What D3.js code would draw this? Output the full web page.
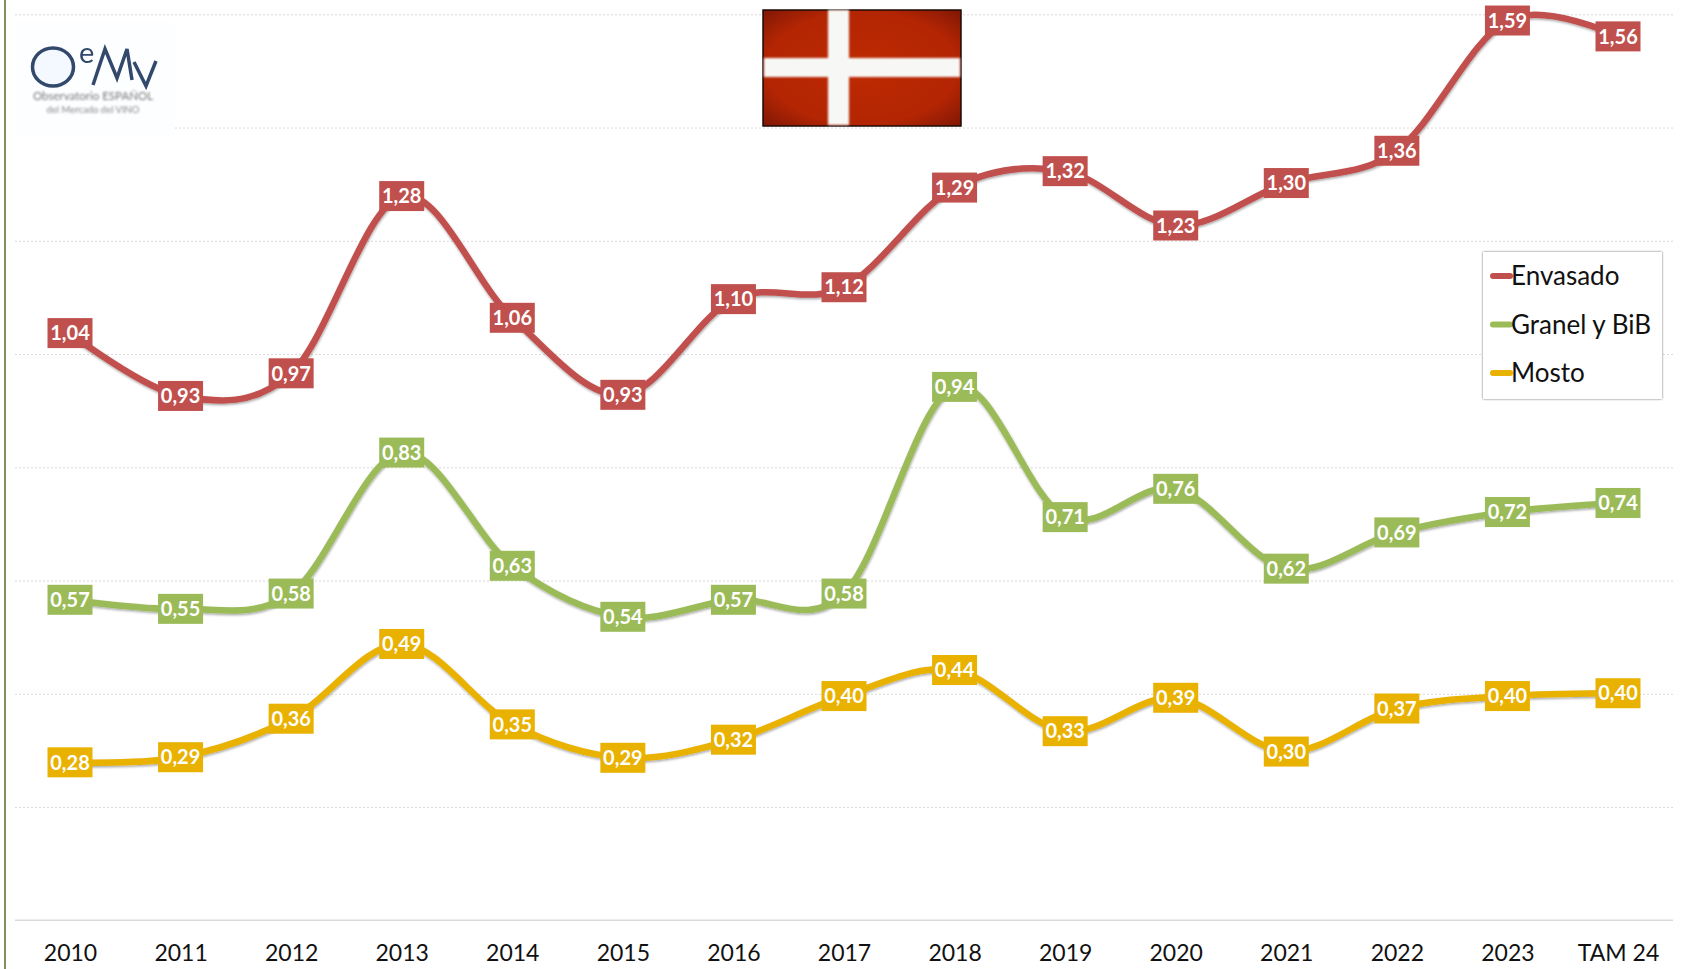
<!DOCTYPE html>
<html>
<head>
<meta charset="utf-8">
<script src="https://d3js.org/d3.v7.min.js"></script>
<style>
    html, body { margin: 0; padding: 0; background: #fff; }
    svg { display: block; font-family: Lato, sans-serif; }
    .grid line { stroke: #d9d9d9; stroke-dasharray: 2 2; }
    .grid path, .axis-x .tick line { display: none; }
    .axis-x path { stroke: #d9d9d9; stroke-width: 1.5; }
    .axis-x text { font-family: Lato, sans-serif; font-size: 23px; fill: #111; }
</style>
</head>
<body>
<svg width="1686" height="969"></svg>
<script>

    var categories = ["2010", "2011", "2012", "2013", "2014", "2015", "2016", "2017", "2018", "2019", "2020", "2021", "2022", "2023", "TAM 24"];
    var envasado = [1.037, 0.926, 0.966, 1.279, 1.064, 0.928, 1.097, 1.118, 1.294, 1.323, 1.227, 1.302, 1.359, 1.589, 1.561];
    var granel = [0.566, 0.550, 0.577, 0.826, 0.626, 0.536, 0.566, 0.577, 0.942, 0.712, 0.762, 0.621, 0.685, 0.721, 0.737];
    var mosto = [0.279, 0.288, 0.356, 0.488, 0.346, 0.287, 0.319, 0.396, 0.442, 0.334, 0.393, 0.298, 0.374, 0.396, 0.401];
    var seriesNames = ["Envasado", "Granel y BiB", "Mosto"];
    var seriesColors = ["#C0504D", "#9BBB59", "#E9B100"];
    var yTicks = [0, 0.2, 0.4, 0.6, 0.8, 1.0, 1.2, 1.4, 1.6];

    var svg = d3.select("svg");
    var defs = svg.append("defs");

    var lineShadow = defs.append("filter").attr("id", "lineShadow")
        .attr("x", "-5%").attr("y", "-20%").attr("width", "110%").attr("height", "140%");
    lineShadow.append("feDropShadow").attr("dx", 0.5).attr("dy", 1.5).attr("stdDeviation", 1)
        .attr("flood-color", "#000").attr("flood-opacity", 0.35);

    var boxShadow = defs.append("filter").attr("id", "boxShadow")
        .attr("x", "-5%").attr("y", "-5%").attr("width", "110%").attr("height", "110%");
    boxShadow.append("feDropShadow").attr("dx", 0).attr("dy", 0).attr("stdDeviation", 1.2)
        .attr("flood-color", "#000").attr("flood-opacity", 0.6);

    defs.append("filter").attr("id", "blurSmall").append("feGaussianBlur").attr("stdDeviation", 1);
    defs.append("filter").attr("id", "blurLogo").append("feGaussianBlur").attr("stdDeviation", 0.5);
    defs.append("filter").attr("id", "blurFlag").append("feGaussianBlur").attr("stdDeviation", 0.9);

    var flagFill = defs.append("radialGradient").attr("id", "flagFill").attr("r", "75%");
    flagFill.append("stop").attr("offset", "0%").attr("stop-color", "#BE2A02");
    flagFill.append("stop").attr("offset", "65%").attr("stop-color", "#B32503");
    flagFill.append("stop").attr("offset", "100%").attr("stop-color", "#741405");

    var x = d3.scalePoint().domain(categories).range([70, 1618]);
    var y = d3.scaleLinear().domain([0, 1.6]).range([920.3, 14.3]);
    var label = function(v) { return d3.format(".2f")(v).replace(".", ","); };

    // left border
    svg.append("line").attr("x1", 5).attr("x2", 5).attr("y1", 0).attr("y2", 969)
        .attr("stroke", "#7F8F5F").attr("stroke-width", 2);

    // gridlines
    svg.append("g").attr("class", "grid")
        .attr("transform", "translate(15,0)")
        .call(d3.axisLeft(y).tickValues(yTicks.slice(1)).tickSize(-1658).tickFormat(""));

    // x axis
    var xAxis = d3.axisBottom(x).tickSize(0).tickPadding(24).tickSizeOuter(0);
    var gx = svg.append("g").attr("class", "axis-x")
        .attr("transform", "translate(0," + y(0) + ")")
        .call(xAxis);
    gx.select(".domain").attr("d", "M-55,0H1603").attr("transform", "translate(70,0)");

    // logo
    var logo = svg.append("g");
    logo.append("rect").attr("x", 15).attr("y", 22).attr("width", 160).attr("height", 114).attr("fill", "#fdfeff");
    var mark = logo.append("g").attr("filter", "url(#blurLogo)");
    mark.append("ellipse").attr("cx", 53).attr("cy", 67).attr("rx", 20.5).attr("ry", 19)
        .attr("fill", "#f4f9ff").attr("stroke", "#33486C").attr("stroke-width", 3.5);
    mark.append("text").attr("x", 79).attr("y", 63).attr("font-size", 29).attr("fill", "#33486C").text("e");
    mark.append("path").attr("d", "M93,85 L105,49 L117,78 L127,49 L132,80 M134,62 L146,86 L156,61")
        .attr("fill", "none").attr("stroke", "#33486C").attr("stroke-width", 3.5);
    logo.append("text").attr("x", 93).attr("y", 100).attr("text-anchor", "middle")
        .attr("font-size", 11.5).attr("fill", "#777").attr("filter", "url(#blurSmall)").text("Observatorio ESPAÑOL");
    logo.append("text").attr("x", 93).attr("y", 113).attr("text-anchor", "middle")
        .attr("font-size", 9.5).attr("fill", "#888").attr("filter", "url(#blurSmall)").text("del Mercado del VINO");

    // flag
    var flag = svg.append("g");
    flag.append("rect").attr("x", 763).attr("y", 10).attr("width", 198).attr("height", 116)
        .attr("fill", "url(#flagFill)").attr("stroke", "#1c0a05").attr("stroke-width", 1.5);
    flag.append("rect").attr("x", 828).attr("y", 10).attr("width", 21).attr("height", 115)
        .attr("fill", "#F7F7F5").attr("filter", "url(#blurFlag)");
    flag.append("rect").attr("x", 764).attr("y", 58).attr("width", 196).attr("height", 19)
        .attr("fill", "#F7F7F5").attr("filter", "url(#blurFlag)");

    // series
    var line = d3.line()
        .x(function(d, i) { return x(categories[i]); })
        .y(function(d) { return y(d); })
        .curve(d3.curveCatmullRom.alpha(0));

    [envasado, granel, mosto].forEach(function(values, s) {
        svg.append("path")
            .datum(values)
            .attr("d", line)
            .attr("fill", "none")
            .attr("stroke", seriesColors[s])
            .attr("stroke-width", 6.5)
            .attr("stroke-linecap", "round")
            .attr("filter", "url(#lineShadow)");
    });

    [envasado, granel, mosto].forEach(function(values, s) {
        var g = svg.append("g").selectAll("g")
            .data(values)
            .enter()
            .append("g")
            .attr("transform", function(d, i) { return "translate(" + x(categories[i]) + "," + y(d) + ")"; });
        g.append("rect")
            .attr("x", -22.5).attr("y", -15).attr("width", 45).attr("height", 30)
            .attr("fill", seriesColors[s]);
        g.append("text")
            .attr("text-anchor", "middle")
            .attr("dy", "0.36em")
            .attr("font-size", 20)
            .attr("font-weight", 700)
            .attr("fill", "#fff")
            .text(label);
    });

    // legend
    var legend = svg.append("g").attr("transform", "translate(1483,252)");
    legend.append("rect").attr("width", 179).attr("height", 147)
        .attr("fill", "#fff").attr("filter", "url(#boxShadow)");
    var items = legend.selectAll(".item")
        .data(seriesNames)
        .enter()
        .append("g")
        .attr("class", "item")
        .attr("transform", function(d, i) { return "translate(0," + (24 + i * 48.5) + ")"; });
    items.append("line")
        .attr("x1", 10).attr("x2", 27)
        .attr("stroke", function(d, i) { return seriesColors[i]; })
        .attr("stroke-width", 6)
        .attr("stroke-linecap", "round");
    items.append("text")
        .attr("x", 28)
        .attr("dy", "0.36em")
        .attr("font-size", 26)
        .attr("fill", "#111")
        .text(function(d) { return d; });

</script>
</body>
</html>
